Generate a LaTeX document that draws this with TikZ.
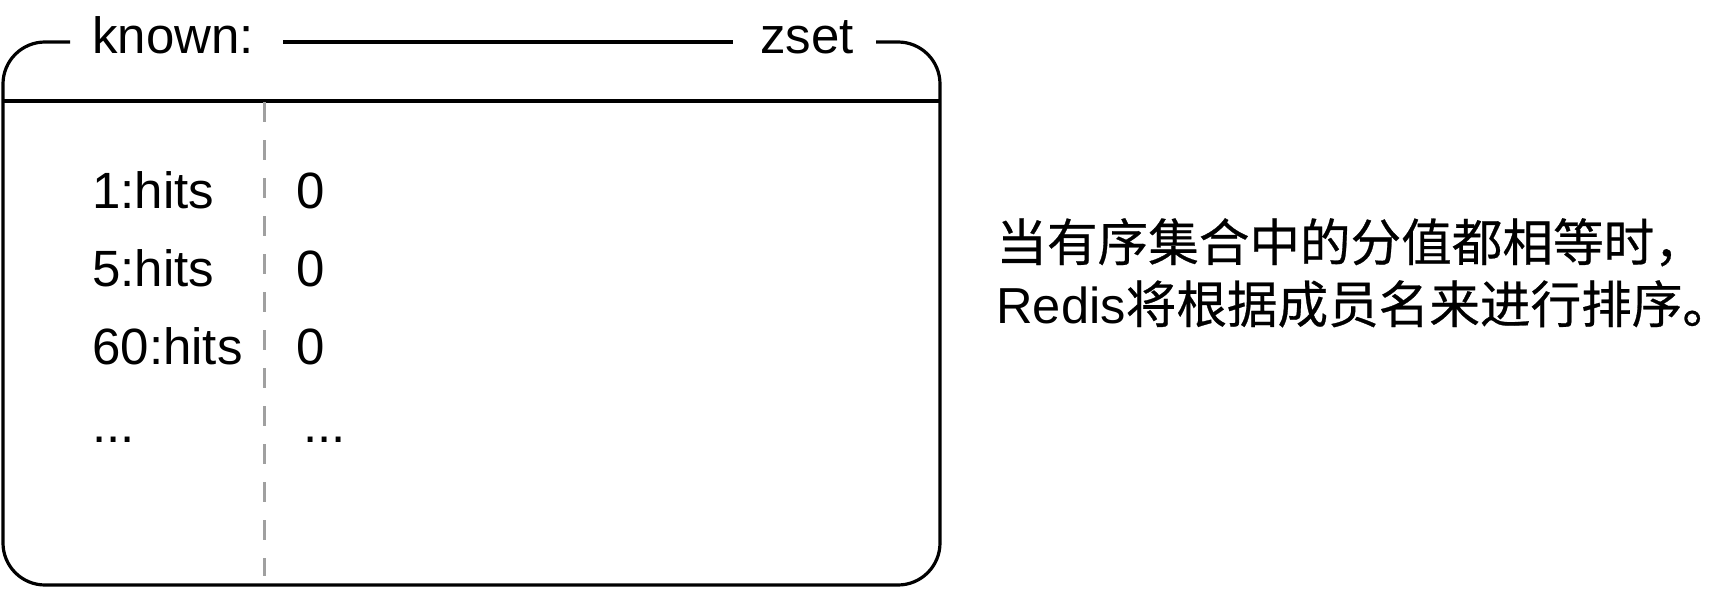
\documentclass[tikz,border=0pt]{standalone}
\usepackage{fontspec}
\setmainfont{Liberation Sans}
\newfontfamily\cjk{Noto Sans CJK SC}[FakeBold=0.5]
\definecolor{dashgray}{RGB}{160,160,160}
\tikzset{
  boxline/.style={line width=1.6pt, black},
  divider/.style={line width=1.5pt, dashgray, dash pattern=on 10pt off 9pt},
  lbl/.style={inner sep=0pt, anchor=base west, font=\fontsize{25.5}{30}\selectfont},
  note/.style={inner sep=0pt, anchor=base west, font=\fontsize{25.3}{30}\selectfont}
}
\begin{document}
\begin{tikzpicture}[x=0.5pt,y=-0.5pt]
\useasboundingbox (0,0) rectangle (1731,589);
% header labels
\node[lbl] (known) at (92,54) {known:};
\node[lbl] (zset) at (760,54) {zset};
% outer box with rounded corners
\draw[boxline, rounded corners=21pt] (70,42) -- (3,42) -- (3,585) -- (940,585) -- (940,42) -- (876,42);
\draw[boxline] (283,42) -- (733,42);
% header separator
\draw[boxline] (3,101) -- (940,101);
% dashed column divider
\coordinate (dtop) at (264,102);
\coordinate (dbot) at (264,576);
\draw[divider] (dtop) -- (dbot);
% rows
\node[lbl] (k1) at (92,208) {1:hits};
\node[lbl] (k2) at (92,286) {5:hits};
\node[lbl] (k3) at (92,364) {60:hits};
\node[lbl] (k4) at (92,442) {...};
\node[lbl] (v1) at (296,208) {0};
\node[lbl] (v2) at (296,286) {0};
\node[lbl] (v3) at (296,364) {0};
\node[lbl] (v4) at (303,442) {...};
% note
\node[note] (n1) at (996,261) {\cjk 当有序集合中的分值都相等时，};
\node[note] (n2) at (996,323) {Redis{\cjk 将根据成员名来进行排序。}};
\end{tikzpicture}
\end{document}
